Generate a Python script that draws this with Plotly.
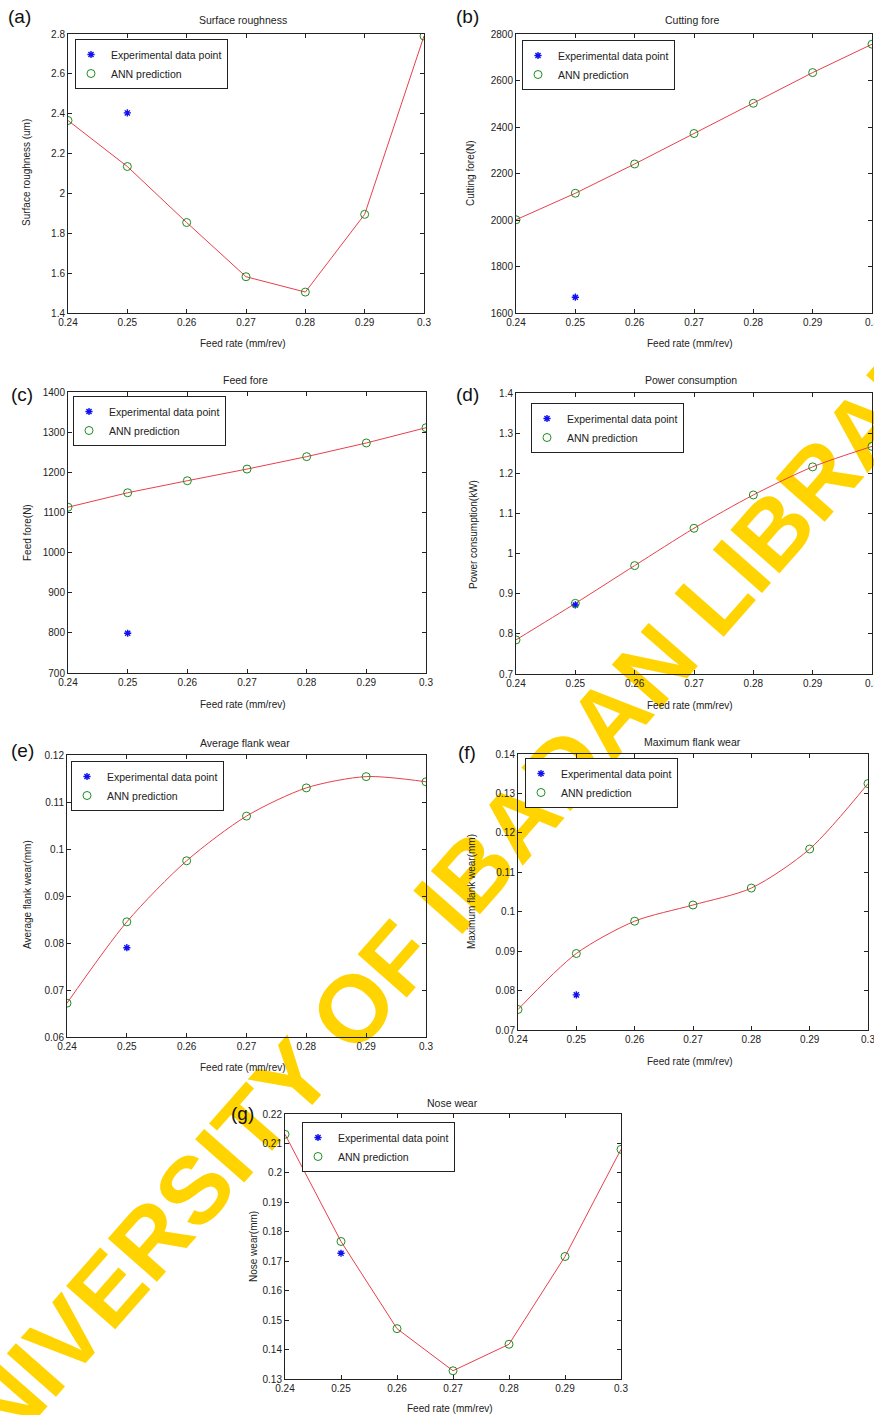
import math
import plotly.graph_objects as go

# ---------------- data ----------------
feed = [0.24, 0.25, 0.26, 0.27, 0.28, 0.29, 0.30]
exp_feed = [0.25]

surface_ann = [2.366, 2.135, 1.854, 1.582, 1.505, 1.895, 2.79]
surface_exp = [2.404]
cutting_ann = [2001, 2115, 2241, 2372, 2502, 2634, 2756]
cutting_exp = [1668]
feedforce_ann = [1113, 1149, 1179, 1208, 1239, 1273, 1311]
feedforce_exp = [799]
power_ann = [0.785, 0.876, 0.970, 1.063, 1.146, 1.216, 1.267]
power_exp = [0.872]
avgwear_ann = [0.0672, 0.0845, 0.0975, 0.1070, 0.1130, 0.1154, 0.1143]
avgwear_exp = [0.0790]
maxwear_ann = [0.0752, 0.0894, 0.0976, 0.1017, 0.1060, 0.1159, 0.1325]
maxwear_exp = [0.0789]
nose_ann = [0.2131, 0.1767, 0.1471, 0.1328, 0.1418, 0.1716, 0.2080]
nose_exp = [0.1727]

titles = ["Surface roughness", "Cutting fore", "Feed fore", "Power consumption",
          "Average flank wear", "Maximum flank wear", "Nose wear"]
ylabels = ["Surface roughness (um)", "Cutting fore(N)", "Feed fore(N)",
           "Power consumption(kW)", "Average flank wear(mm)",
           "Maximum flank wear(mm)", "Nose wear(mm)"]
letters = ["(a)", "(b)", "(c)", "(d)", "(e)", "(f)", "(g)"]
xlabel = "Feed rate (mm/rev)"
yranges = [[1.4, 2.8], [1600, 2800], [700, 1400], [0.7, 1.4],
           [0.06, 0.12], [0.07, 0.14], [0.13, 0.22]]
ydticks = [0.2, 200, 100, 0.1, 0.01, 0.01, 0.01]
ann_series = [surface_ann, cutting_ann, feedforce_ann, power_ann,
              avgwear_ann, maxwear_ann, nose_ann]
exp_series = [surface_exp, cutting_exp, feedforce_exp, power_exp,
              avgwear_exp, maxwear_exp, nose_exp]
smooth = [False, False, False, True, True, True, False]
watermark = "UNIVERSITY OF IBADAN LIBRARY"

# ---------------- layout (pixel geometry) ----------------
W, H = 874, 1415
FONT = "Liberation Sans, Arial, sans-serif"
INK = "#222222"

# plot boxes: (left, right, top, bottom) in px
boxes = [(68, 424, 34, 313), (516, 872, 34, 313),
         (68, 426, 392, 673), (516, 872, 393, 674),
         (67, 426, 755, 1037), (518, 868, 754, 1030),
         (285, 621, 1114, 1379)]
title_pos = [(243, 20), (692, 20), (245, 380), (691, 380),
             (245, 743), (692, 742), (452, 1103)]
xlab_pos = [(243, 343), (690, 343), (243, 704), (690, 705),
            (243, 1067), (690, 1061), (450, 1408)]
ylab_pos = [(27, 173), (471, 173), (27, 533), (473, 535),
            (27, 895), (472, 892), (253, 1247)]
letter_pos = [(19, 16), (467, 16), (22, 394), (467, 394),
              (22, 750), (467, 752), (242, 1113)]
legend_pos = [(75, 39), (522, 40), (73, 396), (531, 403),
              (71, 761), (525, 758), (302, 1122)]


def px(x):
    return x / W


def py(y):
    return 1 - y / H


fig = go.Figure()
layout = dict(
    width=W, height=H, autosize=False,
    margin=dict(l=0, r=0, t=0, b=0, pad=0, autoexpand=False),
    paper_bgcolor="white",
    plot_bgcolor="rgba(0,0,0,0)",
    font=dict(family=FONT, size=10, color=INK),
    showlegend=True,
)
annotations = []

for i in range(7):
    n = i + 1
    sfx = "" if n == 1 else str(n)
    xa, ya = "x" + sfx, "y" + sfx
    lg = "legend" + sfx
    l, r, t, b = boxes[i]
    common = dict(showline=True, linecolor=INK, linewidth=1, mirror="ticks",
                  ticks="inside", ticklen=4, tickcolor=INK, showgrid=False,
                  zeroline=False, ticklabeloverflow="allow",
                  tickfont=dict(size=10, color=INK, family=FONT))
    layout["xaxis" + sfx] = dict(domain=[px(l), px(r)], range=[0.24, 0.30],
                                 tick0=0.24, dtick=0.01, anchor=ya, **common)
    layout["yaxis" + sfx] = dict(domain=[py(b), py(t)], range=yranges[i],
                                 tick0=yranges[i][0], dtick=ydticks[i],
                                 anchor=xa, **common)
    lx, ly = legend_pos[i]
    layout[lg] = dict(x=px(lx), y=py(ly), xanchor="left", yanchor="top",
                      bgcolor="white", bordercolor=INK, borderwidth=1,
                      font=dict(size=10.5, color=INK, family=FONT),
                      tracegroupgap=0, itemwidth=30, indentation=-5)

    fig.add_trace(go.Scatter(
        x=feed, y=ann_series[i], mode="lines", xaxis=xa, yaxis=ya,
        line=dict(color="#E8404A", width=1,
                  shape="spline" if smooth[i] else "linear", smoothing=0.8),
        showlegend=False, hoverinfo="skip"))
    fig.add_trace(go.Scatter(
        x=exp_feed, y=exp_series[i], mode="markers", xaxis=xa, yaxis=ya,
        name="Experimental data point", legend=lg,
        marker=dict(symbol="asterisk-open", size=6, color="#1010F0",
                    line=dict(color="#1010F0", width=1.4))))
    fig.add_trace(go.Scatter(
        x=feed, y=ann_series[i], mode="markers", xaxis=xa, yaxis=ya,
        name="ANN prediction", legend=lg,
        marker=dict(symbol="circle-open", size=8, color="#1E8C1E",
                    line=dict(color="#1E8C1E", width=1))))

    tx, ty = title_pos[i]
    annotations.append(dict(text=titles[i], x=px(tx), y=py(ty), xref="paper",
                            yref="paper", showarrow=False, xanchor="center",
                            yanchor="middle", font=dict(size=10.5, color=INK)))
    xx, xy = xlab_pos[i]
    annotations.append(dict(text=xlabel, x=px(xx), y=py(xy), xref="paper",
                            yref="paper", showarrow=False, xanchor="center",
                            yanchor="middle", font=dict(size=10, color=INK)))
    yx, yy = ylab_pos[i]
    annotations.append(dict(text=ylabels[i], x=px(yx), y=py(yy), xref="paper",
                            yref="paper", showarrow=False, xanchor="center",
                            yanchor="middle", textangle=-90,
                            font=dict(size=10, color=INK)))
    lx2, ly2 = letter_pos[i]
    annotations.append(dict(text=letters[i], x=px(lx2), y=py(ly2), xref="paper",
                            yref="paper", showarrow=False, xanchor="center",
                            yanchor="middle", font=dict(size=19, color="#111111")))

layout["annotations"] = annotations

# watermark drawn beneath the plots as a shape label
cx, cy = 447, 888
ang = math.radians(48.7)
half = 150
layout["shapes"] = [dict(
    type="line", xref="paper", yref="paper", layer="below",
    x0=px(cx - half * math.cos(ang)), y0=py(cy + half * math.sin(ang)),
    x1=px(cx + half * math.cos(ang)), y1=py(cy - half * math.sin(ang)),
    line=dict(color="rgba(0,0,0,0)", width=1),
    label=dict(text="<b>" + watermark + "</b>", textangle=-48.7,
               textposition="middle", xanchor="center", yanchor="middle",
               padding=0,
               font=dict(size=95, color="#FFD400", family=FONT)))]

fig.update_layout(**layout)
fig.write_html("out.html")
